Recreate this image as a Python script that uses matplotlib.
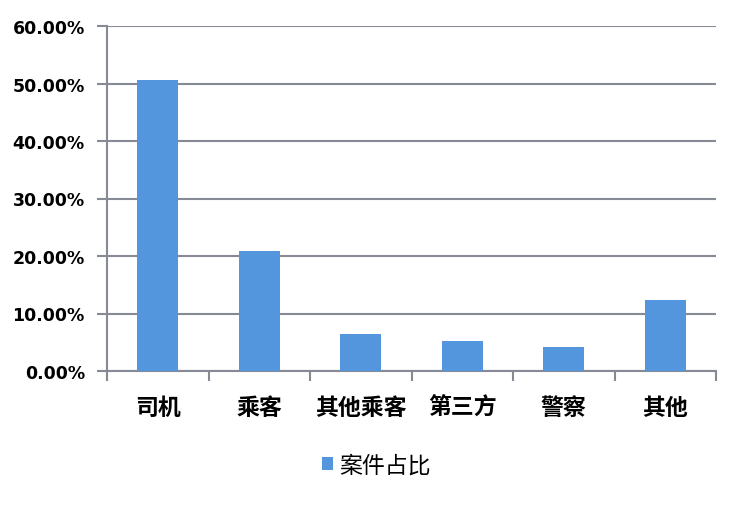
import matplotlib
matplotlib.use("Agg")
import matplotlib.pyplot as plt
from matplotlib.ticker import FuncFormatter, FixedLocator
from matplotlib.patches import Patch

plt.rcParams['font.family'] = ['Noto Sans CJK SC', 'DejaVu Sans']

categories = ["司机", "乘客", "其他乘客", "第三方", "警察", "其他"]
values = [50.6, 20.9, 6.4, 5.3, 4.1, 12.3]
series_name = "案件占比"
yticks = [0, 10, 20, 30, 40, 50, 60]

bar_color = "#5496DD"
grid_color = "#868A94"

fig = plt.figure(figsize=(7.43, 5.06), dpi=100)
ax = fig.add_axes([107/743, 1 - 372/506, (716-107)/743, (372-27)/506])

x = list(range(len(categories)))
ax.bar(x, values, width=0.4, color=bar_color, zorder=3)

ax.set_xlim(-0.5, len(categories) - 0.5)
ax.set_ylim(0, 60)
ax.set_yticks(yticks)
ax.yaxis.set_major_formatter(FuncFormatter(lambda v, p: f"{v:.2f}%"))
ax.grid(axis='y', color=grid_color, linewidth=1.5, zorder=0)

ax.set_xticks(x)
ax.set_xticklabels(categories, fontsize=16.5, fontweight='bold')
ax.xaxis.set_minor_locator(FixedLocator([i - 0.5 for i in range(len(categories) + 1)]))
ax.tick_params(axis='x', which='major', length=0, pad=18)
ax.tick_params(axis='x', which='minor', length=7, width=1.5, color=grid_color, direction='out')
ax.tick_params(axis='y', length=7, width=1.5, color=grid_color, pad=9)
for lbl in ax.get_yticklabels():
    lbl.set_fontfamily(['DejaVu Sans'])
    lbl.set_fontweight('bold')
    lbl.set_fontsize(12.5)

for s in ['top', 'right']:
    ax.spines[s].set_visible(False)
for s in ['left', 'bottom']:
    ax.spines[s].set_color(grid_color)
    ax.spines[s].set_linewidth(1.5)

handle = Patch(facecolor=bar_color, edgecolor='none')
fig.legend([handle], [series_name], loc='center', bbox_to_anchor=(376/743, 1 - 466/506),
           frameon=False, fontsize=16.5, handlelength=0.5, handleheight=0.5, handletextpad=0.25)

fig.savefig("out.png", dpi=100)
